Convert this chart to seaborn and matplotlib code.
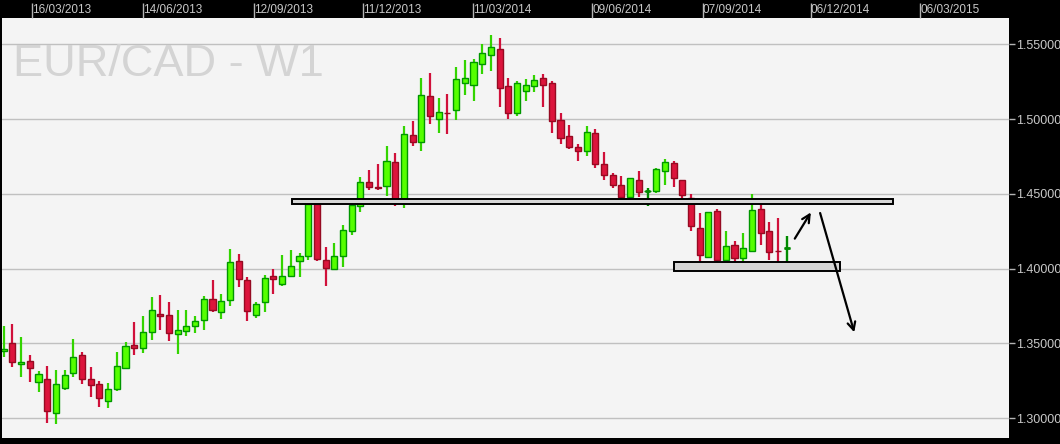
import numpy as np
import pandas as pd
import matplotlib
matplotlib.use("Agg")
import matplotlib.pyplot as plt
from matplotlib.patches import Rectangle
import seaborn as sns

# =========================================
# DATA (weekly EUR/CAD candles)
# =========================================

opens = [1.3447, 1.3500, 1.3360, 1.3380, 1.3240, 1.3260, 1.3033, 1.3200, 1.3300, 1.3420,
         1.3260, 1.3227, 1.3113, 1.3193, 1.3333, 1.3493, 1.3467, 1.3580, 1.3700, 1.3693,
         1.3560, 1.3584, 1.3618, 1.3658, 1.3800, 1.3713, 1.3793, 1.4053, 1.3927, 1.3691,
         1.3780, 1.3953, 1.3900, 1.3953, 1.4053, 1.4084, 1.4433, 1.4060, 1.4000, 1.4087,
         1.4253, 1.4420, 1.4580, 1.4547, 1.4553, 1.4713, 1.4460, 1.4893, 1.4847, 1.5153,
         1.4998, 1.5042, 1.5058, 1.5244, 1.5227, 1.5367, 1.5431, 1.5467, 1.5220, 1.5040,
         1.5187, 1.5220, 1.5273, 1.5242, 1.4993, 1.4887, 1.4813, 1.4784, 1.4907, 1.4700,
         1.4627, 1.4560, 1.4480, 1.4593, 1.4522, 1.4518, 1.4651, 1.4709, 1.4593, 1.4473,
         1.4273, 1.4078, 1.4387, 1.4060, 1.4160, 1.4073, 1.4120, 1.4400, 1.4249, 1.4118,
         1.4140]
highs = [1.3616, 1.3629, 1.3540, 1.3420, 1.3313, 1.3347, 1.3322, 1.3322, 1.3529, 1.3442,
         1.3342, 1.3249, 1.3233, 1.3442, 1.3509, 1.3642, 1.3682, 1.3809, 1.3822, 1.3776,
         1.3722, 1.3722, 1.3682, 1.3816, 1.3922, 1.3833, 1.4129, 1.4096, 1.3942, 1.3776,
         1.3956, 1.3996, 1.4089, 1.4122, 1.4102, 1.4442, 1.4445, 1.4142, 1.4169, 1.4289,
         1.4456, 1.4616, 1.4662, 1.4702, 1.4822, 1.4776, 1.4953, 1.4989, 1.5276, 1.5309,
         1.5142, 1.5169, 1.5349, 1.5396, 1.5402, 1.5502, 1.5560, 1.5542, 1.5276, 1.5256,
         1.5269, 1.5296, 1.5302, 1.5256, 1.5042, 1.4962, 1.4836, 1.4956, 1.4933, 1.4782,
         1.4642, 1.4622, 1.4607, 1.4656, 1.4540, 1.4676, 1.4736, 1.4718, 1.4593, 1.4500,
         1.4369, 1.4380, 1.4402, 1.4249, 1.4182, 1.4236, 1.4500, 1.4460, 1.4309, 1.4342,
         1.4216]
lows = [1.3411, 1.3344, 1.3278, 1.3244, 1.3178, 1.2971, 1.2960, 1.3189, 1.3278, 1.3231,
        1.3144, 1.3078, 1.3071, 1.3184, 1.3331, 1.3424, 1.3438, 1.3524, 1.3591, 1.3518,
        1.3431, 1.3549, 1.3569, 1.3589, 1.3711, 1.3664, 1.3751, 1.3878, 1.3651, 1.3671,
        1.3711, 1.3831, 1.3884, 1.3951, 1.3944, 1.4058, 1.4051, 1.3882, 1.3991, 1.4009,
        1.4222, 1.4382, 1.4529, 1.4529, 1.4489, 1.4418, 1.4404, 1.4818, 1.4784, 1.4964,
        1.4904, 1.4898, 1.4991, 1.5158, 1.5124, 1.5304, 1.5324, 1.5078, 1.4998, 1.5018,
        1.5118, 1.5178, 1.5078, 1.4904, 1.4831, 1.4798, 1.4722, 1.4756, 1.4671, 1.4591,
        1.4538, 1.4436, 1.4453, 1.4478, 1.4418, 1.4504, 1.4558, 1.4544, 1.4471, 1.4251,
        1.4042, 1.4071, 1.4011, 1.4051, 1.4011, 1.4042, 1.4109, 1.4156, 1.4058, 1.4042,
        1.4042]
closes = [1.3462, 1.3373, 1.3373, 1.3333, 1.3293, 1.3047, 1.3227, 1.3287, 1.3407, 1.3260,
          1.3224, 1.3133, 1.3193, 1.3347, 1.3480, 1.3473, 1.3580, 1.3727, 1.3687, 1.3573,
          1.3587, 1.3620, 1.3647, 1.3800, 1.3724, 1.3787, 1.4047, 1.3933, 1.3720, 1.3767,
          1.3940, 1.3933, 1.3953, 1.4020, 1.4082, 1.4431, 1.4067, 1.4007, 1.4087, 1.4260,
          1.4429, 1.4580, 1.4544, 1.4540, 1.4720, 1.4456, 1.4900, 1.4844, 1.5160, 1.5020,
          1.5047, 1.5038, 1.5267, 1.5273, 1.5380, 1.5440, 1.5480, 1.5207, 1.5040, 1.5240,
          1.5227, 1.5260, 1.5227, 1.4987, 1.4873, 1.4813, 1.4784, 1.4913, 1.4700, 1.4627,
          1.4558, 1.4480, 1.4607, 1.4511, 1.4522, 1.4667, 1.4713, 1.4604, 1.4491, 1.4287,
          1.4093, 1.4380, 1.4060, 1.4153, 1.4073, 1.4140, 1.4393, 1.4240, 1.4113, 1.4116,
          1.4140]

# top axis dates and where they sit (in candle units)
date_labels = ["16/03/2013", "14/06/2013", "12/09/2013", "11/12/2013", "11/03/2014",
               "09/06/2014", "07/09/2014", "06/12/2014", "06/03/2015"]
date_pos = [3.25, 16.05, 28.77, 41.33, 53.98, 67.66, 80.34, 92.79, 105.32]

price_ticks = [1.30, 1.35, 1.40, 1.45, 1.50, 1.55]

# support / resistance zones: (x start, x end, price low, price high)
zones = [(33.17, 102.25, 1.4435, 1.4466),
         (77.08, 96.16, 1.3983, 1.4043)]

# hand drawn arrows: (x from, price from, x to, price to)
arrows = [(90.76, 1.4185, 92.94, 1.4392),
          (93.75, 1.4390, 97.85, 1.3557)]

df = pd.DataFrame({"open": opens, "high": highs, "low": lows, "close": closes})
df["week"] = np.arange(len(df))
df["up"] = df["close"] >= df["open"]

# =========================================
# STYLE
# =========================================

sns.set_style("white", {"axes.facecolor": "#f4f4f4", "figure.facecolor": "black"})
plt.rcParams["font.family"] = ["Liberation Sans", "DejaVu Sans"]

fig = plt.figure(figsize=(10.6, 4.44), dpi=100, facecolor="black")
ax = fig.add_axes([2 / 1060, 6 / 444, 1007 / 1060, 420 / 444])
ax.set_facecolor("#f4f4f4")

# gridlines
for p in price_ticks:
    ax.axhline(p, color="#c0c0c0", lw=1, zorder=0)

# =========================================
# CANDLES
# =========================================

up = df[df["up"]]
dn = df[~df["up"]]
doji = df[(df["close"] - df["open"]).abs() < 1e-6]

ax.vlines(up["week"], up["low"], up["high"], color="#33d400", lw=1.6, zorder=2)
ax.vlines(dn["week"], dn["low"], dn["high"], color="#d0103a", lw=1.6, zorder=2)
ax.vlines(doji["week"], doji["low"], doji["high"], color="#008a00", lw=1.6, zorder=3)

ax.bar(up["week"], up["close"] - up["open"], bottom=up["open"], width=0.7,
       color="#55ff00", edgecolor="#009600", lw=1, zorder=3)
ax.bar(dn["week"], dn["open"] - dn["close"], bottom=dn["close"], width=0.7,
       color="#dc143c", edgecolor="#960a22", lw=1, zorder=3)
ax.hlines(doji["close"], doji["week"] - 0.34, doji["week"] + 0.34,
          color="#008a00", lw=2, zorder=4)

# zones
for x0, x1, lo, hi in zones:
    ax.add_patch(Rectangle((x0, lo), x1 - x0, hi - lo, facecolor="#d6d6d6",
                           edgecolor="black", lw=1.4, zorder=5))

# arrows
for x0, y0, x1, y1 in arrows:
    ax.annotate("", xy=(x1, y1), xytext=(x0, y0),
                arrowprops=dict(arrowstyle="->", color="black", lw=1.6,
                                mutation_scale=14), zorder=6)

# =========================================
# AXES
# =========================================

ax.set_xlim(-0.2, 115.55)
ax.set_ylim(1.2868, 1.5676)

ax.yaxis.tick_right()
ax.set_yticks(price_ticks)
ax.set_yticklabels([f"{p:.5f}" for p in price_ticks])
ax.tick_params(axis="y", right=True, length=4, width=1, color="#b4b4b4",
               labelcolor="#c8c8c8", labelsize=9, pad=1)

ax.xaxis.tick_top()
ax.set_xticks(date_pos)
ax.set_xticklabels(date_labels, ha="left")
ax.tick_params(axis="x", top=True, bottom=False, length=11, width=1,
               color="#b4b4b4", labelcolor="#c8c8c8", labelsize=8.5, pad=-9.5)
for lbl in ax.get_xticklabels():
    lbl.set_horizontalalignment("left")

for s in ax.spines.values():
    s.set_visible(False)

fig.text(12.5 / 1060, 1 - 76 / 444, "EUR/CAD - W1", color="#d4d4d4",
         fontsize=32.5, va="baseline", ha="left")

fig.savefig("out.png", dpi=100, facecolor="black")
